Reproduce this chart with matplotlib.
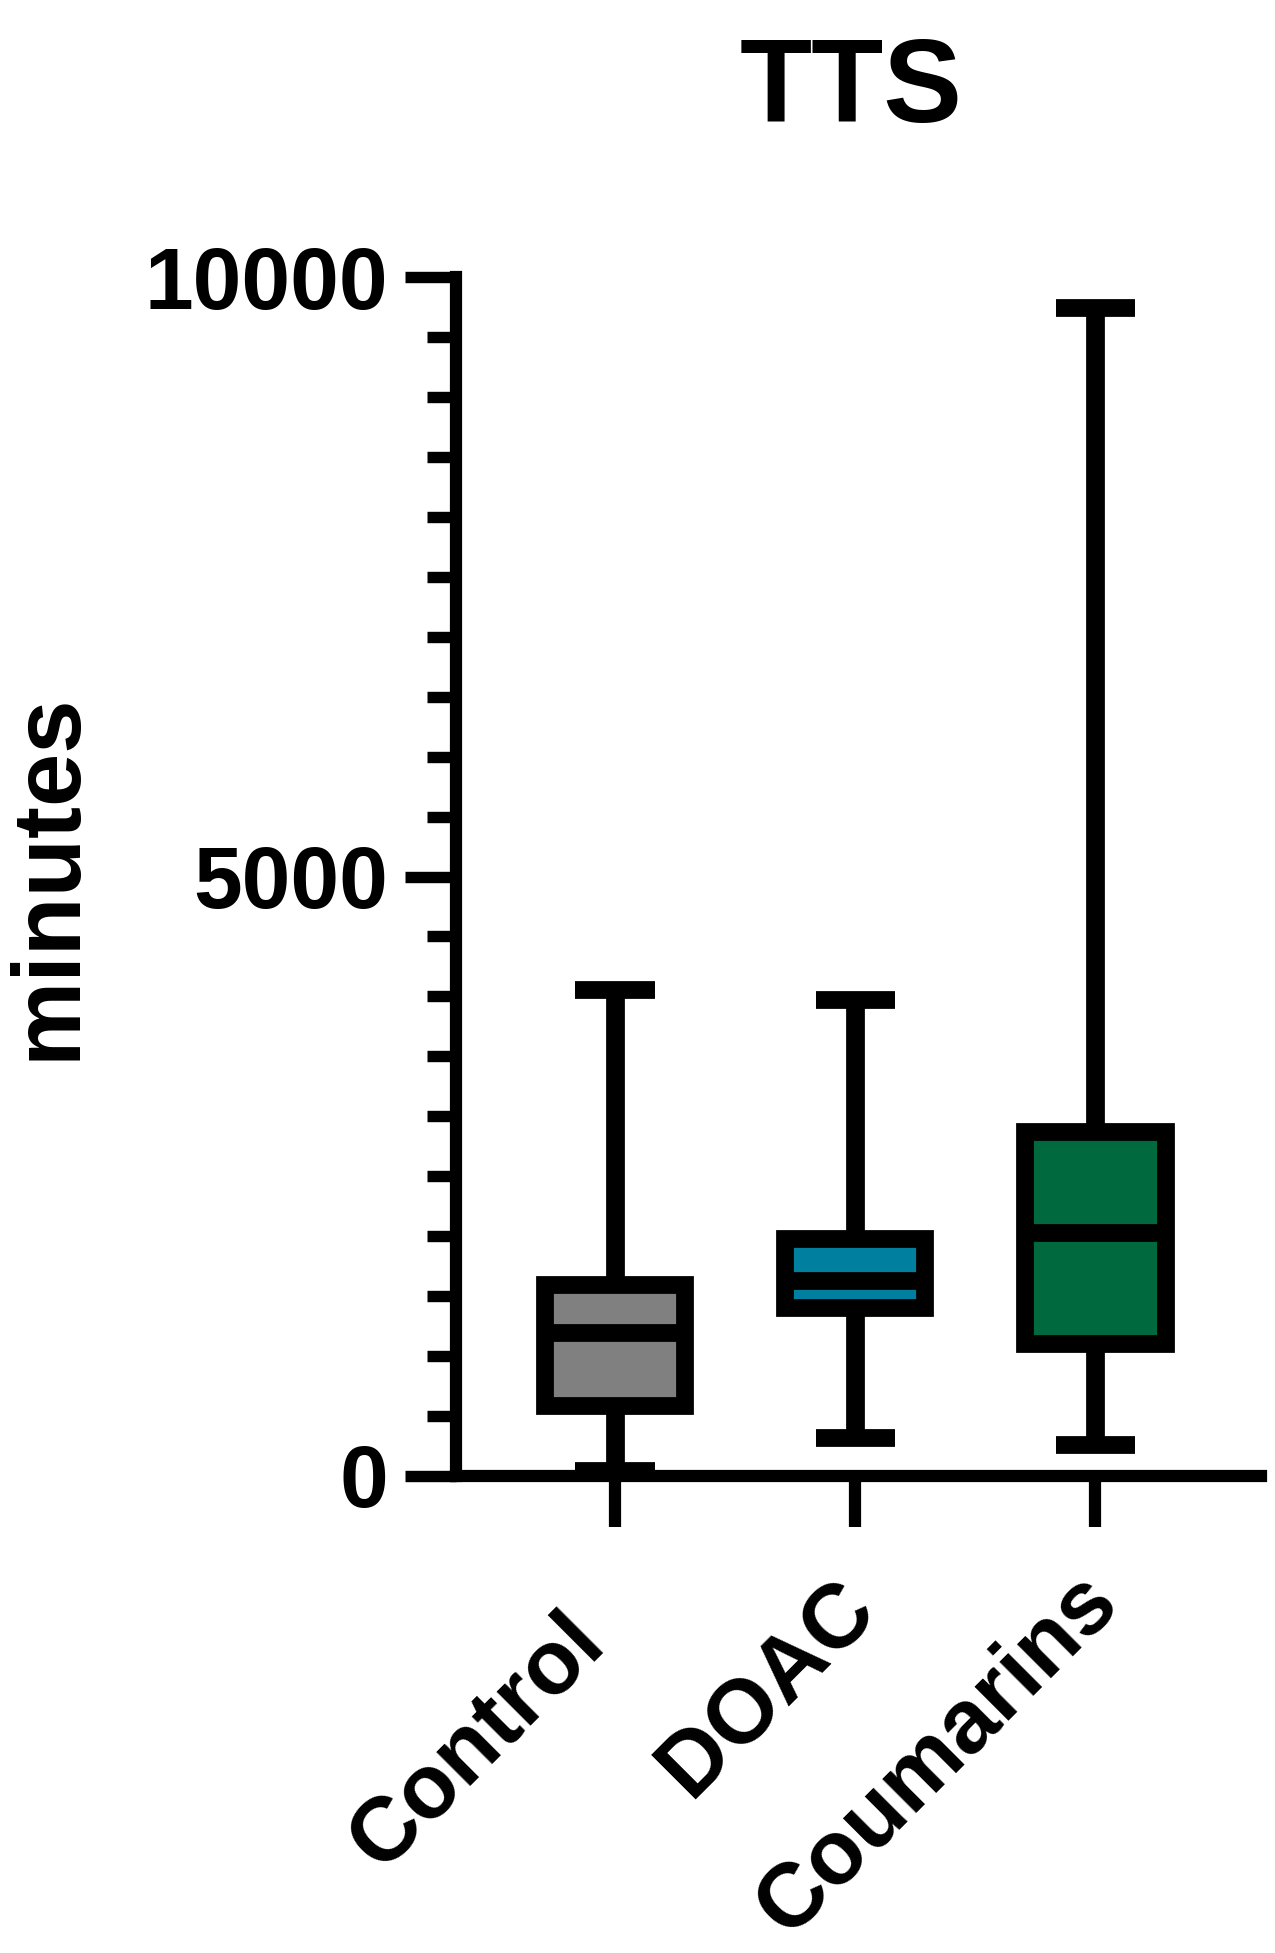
import matplotlib
matplotlib.use("Agg")
import matplotlib.pyplot as plt
from matplotlib.ticker import MultipleLocator
from matplotlib.transforms import ScaledTranslation

# box plot summary values (minutes)
groups = ["Control", "DOAC", "Coumarins"]
medians = [1190, 1625, 2030]
q1 = [585, 1400, 1105]
q3 = [1595, 1980, 2865]
whisker_low = [40, 320, 260]
whisker_high = [4050, 3970, 9740]
box_colors = ["#808080", "#007f9e", "#00693e"]

plt.rcParams['font.family'] = ['Liberation Sans', 'DejaVu Sans']
plt.rcParams['font.weight'] = 'bold'

W, H = 1275, 1953
fig = plt.figure(figsize=(W / 100, H / 100), dpi=100)
ax = fig.add_axes([456 / W, 477 / H, 805 / W, 1199 / H])

stats = []
for g, m, a, b, lo, hi in zip(groups, medians, q1, q3, whisker_low, whisker_high):
    stats.append(dict(label=g, med=m, q1=a, q3=b, whislo=lo, whishi=hi))

lw = 12.8
bp = ax.bxp(stats, positions=[1, 2, 3], widths=0.585, capwidths=0.33,
            patch_artist=True, showfliers=False, manage_ticks=False,
            boxprops=dict(linewidth=lw, edgecolor='black'),
            whiskerprops=dict(linewidth=13.5, color='black', solid_capstyle='butt'),
            capprops=dict(linewidth=lw, color='black', solid_capstyle='butt'),
            medianprops=dict(linewidth=lw, color='black', solid_capstyle='butt'))
for patch, c in zip(bp['boxes'], box_colors):
    patch.set_facecolor(c)
for key in ['boxes', 'whiskers', 'caps', 'medians']:
    for art in bp[key]:
        art.set_clip_on(False)

ax.set_xlim(0.3375, 3.69)
ax.set_ylim(0, 10000)

for s in ['top', 'right']:
    ax.spines[s].set_visible(False)
for s in ['left', 'bottom']:
    ax.spines[s].set_linewidth(8.8)

ax.set_yticks([0, 5000, 10000])
ax.yaxis.set_minor_locator(MultipleLocator(500))
ax.tick_params(axis='y', which='major', length=36.7, width=8.2, labelsize=63, pad=12)
ax.tick_params(axis='y', which='minor', length=21, width=8.2)

ax.set_xticks([1, 2, 3])
ax.set_xticklabels(groups, fontsize=65, rotation=45, ha='right', va='baseline',
                   rotation_mode='anchor')
ax.tick_params(axis='x', which='major', length=36.7, width=8.8, pad=60.5)

# nudge rotated labels (pixels)
shifts = [(-8, -34), (23, 0), (26, 6)]
for lab, (dx, dy) in zip(ax.get_xticklabels(), shifts):
    lab.set_transform(lab.get_transform() + ScaledTranslation(dx / 100, dy / 100, fig.dpi_scale_trans))

fig.text(50 / W, 1 - 876 / H, 'minutes', rotation=90, ha='center', va='center', fontsize=69)
fig.text(851 / W, 1 - 122 / H, 'TTS', ha='center', va='baseline', fontsize=85)

fig.savefig('out.png', dpi=100)
